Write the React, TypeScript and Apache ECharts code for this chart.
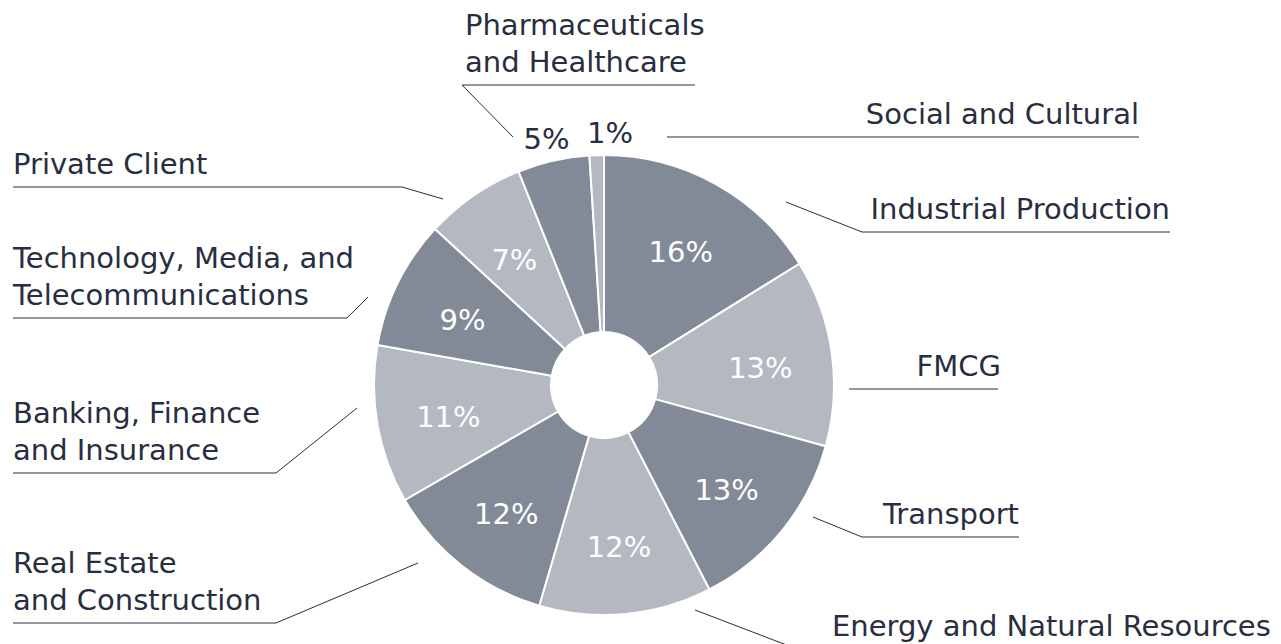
import React, { useEffect, useRef } from "react";
import * as echarts from "echarts";

// ---- data ----
const categories = [
  "Industrial Production",
  "FMCG",
  "Transport",
  "Energy and Natural Resources",
  "Real Estate\nand Construction",
  "Banking, Finance\nand Insurance",
  "Technology, Media, and\nTelecommunications",
  "Private Client",
  "Pharmaceuticals\nand Healthcare",
  "Social and Cultural",
];
const shares = [16, 13, 13, 12, 12, 11, 9, 7, 5, 1];
const outsidePercent = [false, false, false, false, false, false, false, false, true, true];

// ---- styles / layout ----
const DARK = "#838a97";
const LIGHT = "#b4b8c0";
const sliceColors = [DARK, LIGHT, DARK, LIGHT, DARK, LIGHT, DARK, LIGHT, DARK, LIGHT];
const TEXT = "#282e40";
const FONT = "DejaVu Sans";
const FONT_SIZE = 29;
const CENTER: [number, number] = [604, 385];
const OUTER = 230;
const INNER = 53;
const outsideShift = [0, 0, 0, 0, 0, 0, 0, 0, -2, 14];

type Guide = {
  start: [number, number];
  elbow: [number, number];
  end: [number, number];
  textX: number;
  align: "left" | "right";
};
const labelGuides: Guide[] = [
  { start: [786, 202], elbow: [862, 232], end: [1170, 232], textX: 1170, align: "right" },
  { start: [849, 389], elbow: [849, 389], end: [998, 389], textX: 1001, align: "right" },
  { start: [813, 517], elbow: [862, 537], end: [1019, 537], textX: 1019, align: "right" },
  { start: [695, 610], elbow: [797, 649], end: [1281, 649], textX: 832, align: "left" },
  { start: [418, 563], elbow: [276, 623], end: [13, 623], textX: 13, align: "left" },
  { start: [357, 408], elbow: [276, 473], end: [13, 473], textX: 13, align: "left" },
  { start: [368, 297], elbow: [347, 318], end: [13, 318], textX: 13, align: "left" },
  { start: [443, 199], elbow: [402, 187], end: [13, 187], textX: 13, align: "left" },
  { start: [513, 137], elbow: [462, 85], end: [695, 85], textX: 465, align: "left" },
  { start: [667, 137], elbow: [667, 137], end: [1139, 137], textX: 1139, align: "right" },
];

function midAngle(i: number): number {
  const total = shares.reduce((a, b) => a + b, 0);
  let cum = 0;
  for (let k = 0; k < i; k++) cum += shares[k];
  return ((cum + shares[i] / 2) / total) * Math.PI * 2;
}

export default function App() {
  const ref = useRef<HTMLDivElement>(null);
  useEffect(() => {
    if (!ref.current) return;
    const chart = echarts.init(ref.current, null, { renderer: "svg" });
    const option: any = {
      animation: false,
      textStyle: { fontFamily: FONT },
      series: [
        {
          type: "pie",
          center: CENTER,
          radius: [INNER, OUTER],
          startAngle: 90,
          clockwise: true,
          avoidLabelOverlap: false,
          silent: true,
          emphasis: { disabled: true },
          itemStyle: { borderColor: "#ffffff", borderWidth: 2 },
          label: {
            show: true,
            position: "outside",
            formatter: "{b}",
            color: TEXT,
            fontFamily: FONT,
            fontSize: FONT_SIZE,
            lineHeight: 37,
          },
          labelLine: { show: true, lineStyle: { color: TEXT, width: 1 } },
          labelLayout: (p: any) => {
            const g = labelGuides[p.dataIndex];
            return {
              x: g.textX,
              y: g.end[1] - 5,
              align: g.align,
              verticalAlign: "bottom",
              labelLinePoints: [g.start, g.elbow, g.end],
            };
          },
          data: categories.map((name, i) => ({
            name,
            value: shares[i],
            itemStyle: { color: sliceColors[i] },
          })),
        },
        {
          type: "pie",
          center: CENTER,
          radius: [80, OUTER],
          startAngle: 90,
          clockwise: true,
          avoidLabelOverlap: false,
          silent: true,
          emphasis: { disabled: true },
          itemStyle: { color: "rgba(0,0,0,0)", borderWidth: 0 },
          label: {
            show: true,
            position: "inside",
            formatter: (p: any) => p.value + "%",
            color: "#ffffff",
            fontFamily: FONT,
            fontSize: FONT_SIZE,
          },
          labelLine: { show: false },
          labelLayout: (p: any) => {
            if (!outsidePercent[p.dataIndex]) return { dy: 5 };
            const a = midAngle(p.dataIndex);
            const R = 252;
            return {
              x: CENTER[0] + R * Math.sin(a) + outsideShift[p.dataIndex],
              y: CENTER[1] - R * Math.cos(a),
              align: "center",
              verticalAlign: "middle",
            };
          },
          data: categories.map((name, i) => ({
            name,
            value: shares[i],
            label: outsidePercent[i]
              ? { position: "outside", color: TEXT }
              : undefined,
          })),
        },
      ],
    };
    chart.setOption(option);
    return () => chart.dispose();
  }, []);
  return (
    <div
      ref={ref}
      style={{ position: "absolute", left: 0, top: 0, width: 1281, height: 644, background: "#ffffff" }}
    />
  );
}
